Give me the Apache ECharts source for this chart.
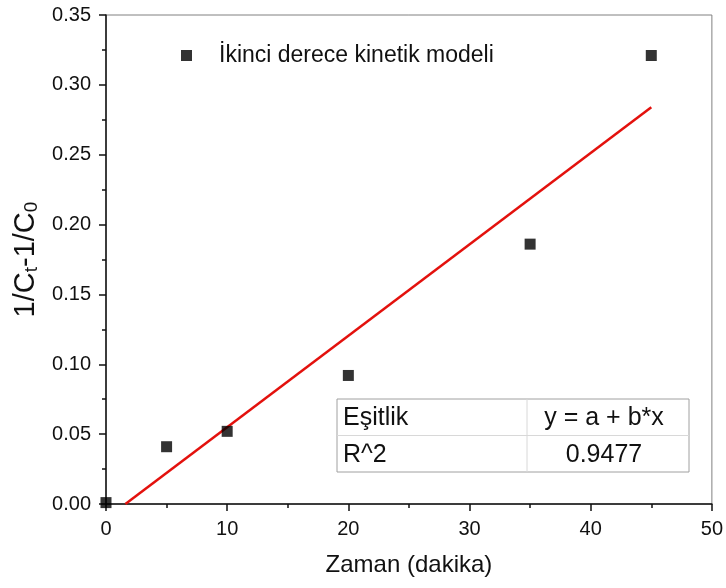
<!DOCTYPE html>
<html>
<head>
<meta charset="UTF-8">
<title>İkinci derece kinetik modeli</title>
<script src="https://cdn.jsdelivr.net/npm/echarts@6/dist/echarts.min.js"></script>
<style>
  html, body { margin: 0; padding: 0; background: #fff; }
  #container { width: 726px; height: 588px; }
</style>
</head>
<body>
<div id="container"></div>
<script>
// olculen noktalar
var zaman = [0, 5, 10, 20, 35, 45];
var degerler = [0.001, 0.041, 0.052, 0.092, 0.186, 0.321];
// dogrusal uydurma cizgisi (gorunen uclar)
var fitX = [1.6, 45];
var fitY = [0, 0.284];
// tablo metinleri
var tabloSatirlar = [['Eşitlik', 'y = a + b*x'], ['R^2', '0.9477']];
var seriAdi = 'İkinci derece kinetik modeli';

var font = 'Arial, "Liberation Sans", sans-serif';
var myChart = echarts.init(document.getElementById('container'));

var noktalar = zaman.map(function (x, i) { return [x, degerler[i]]; });
var cizgi = fitX.map(function (x, i) { return [x, fitY[i]]; });

// tablo (grafik ogeleri)
var tx = 337, ty = 399, tw = 352, rh = 36.5, col = 527;
var tablo = [
  { type: 'rect', shape: { x: tx, y: ty, width: tw, height: rh * 2 },
    style: { fill: '#fff', stroke: '#a0a0a0', lineWidth: 1 }, z: 100 },
  { type: 'line', shape: { x1: tx, y1: ty + rh, x2: tx + tw, y2: ty + rh },
    style: { stroke: '#d8d8d8', lineWidth: 1 }, z: 101 },
  { type: 'line', shape: { x1: col, y1: ty, x2: col, y2: ty + rh * 2 },
    style: { stroke: '#d8d8d8', lineWidth: 1 }, z: 101 }
];
tabloSatirlar.forEach(function (r, i) {
  var cy = ty + rh * i + rh / 2 + 1;
  tablo.push({ type: 'text', x: tx + 6, y: cy, z: 102,
    style: { text: r[0], fontSize: 25, fontFamily: font, fill: '#111', verticalAlign: 'middle', align: 'left' } });
  tablo.push({ type: 'text', x: 604, y: cy, z: 102,
    style: { text: r[1], fontSize: 25, fontFamily: font, fill: '#111', verticalAlign: 'middle', align: 'center' } });
});

var option = {
  animation: false,
  textStyle: { fontFamily: font },
  grid: { left: 106, right: 14, top: 15, bottom: 84, show: true, borderColor: '#808080', borderWidth: 1 },
  legend: {
    left: 176, top: 39,
    icon: 'rect', itemWidth: 11, itemHeight: 11,
    data: [seriAdi],
    textStyle: { fontSize: 23, color: '#111', fontFamily: font, padding: [0, 0, 0, 22] }
  },
  xAxis: {
    type: 'value', min: 0, max: 50, interval: 10,
    name: 'Zaman (dakika)', nameLocation: 'middle', nameGap: 49,
    nameTextStyle: { fontSize: 24, color: '#111' },
    axisLine: { onZero: false, lineStyle: { color: '#111', width: 1.5 } },
    axisTick: { inside: false, length: 7, lineStyle: { color: '#111', width: 1.5 } },
    minorTick: { show: true, splitNumber: 2, length: 4, lineStyle: { color: '#111', width: 1.5 } },
    axisLabel: { fontSize: 20, color: '#111', margin: 15 },
    splitLine: { show: false }
  },
  yAxis: {
    type: 'value', min: 0, max: 0.35, interval: 0.05,
    name: '1/C{sub|t}-1/C{sub|0}', nameLocation: 'middle', nameGap: 57, nameRotate: 90,
    nameTextStyle: {
      fontSize: 29, color: '#111', fontFamily: font,
      rich: { sub: { fontSize: 19, color: '#111', fontFamily: font, padding: [12, 0, 0, 0] } }
    },
    axisLine: { onZero: false, lineStyle: { color: '#111', width: 1.5 } },
    axisTick: { inside: false, length: 7, lineStyle: { color: '#111', width: 1.5 } },
    minorTick: { show: true, splitNumber: 2, length: 4, lineStyle: { color: '#111', width: 1.5 } },
    axisLabel: { fontSize: 20, color: '#111', margin: 15, formatter: function (v) { return v.toFixed(2); } },
    splitLine: { show: false }
  },
  series: [
    {
      name: seriAdi, type: 'scatter', data: noktalar,
      symbol: 'rect', symbolSize: 11,
      itemStyle: { color: '#000' }, z: 5
    },
    {
      name: 'fit', type: 'line', data: cizgi,
      showSymbol: false, symbol: 'none',
      lineStyle: { color: '#e3110d', width: 2.5 }, z: 4
    }
  ],
  graphic: tablo
};

myChart.setOption(option);
</script>
</body>
</html>
